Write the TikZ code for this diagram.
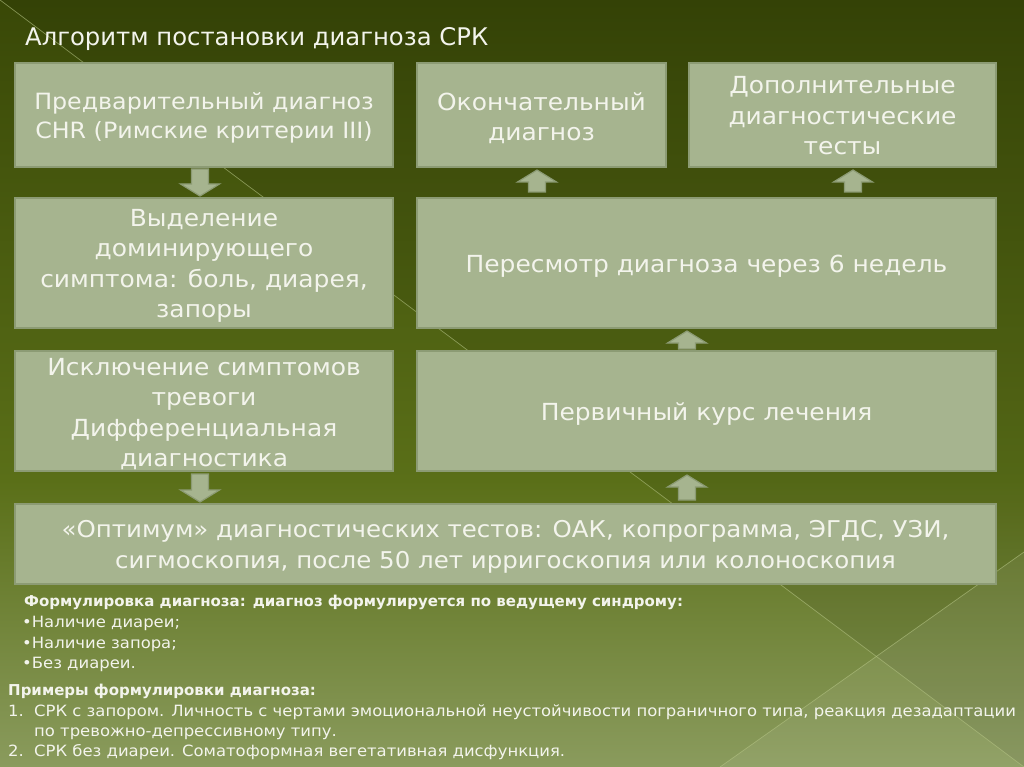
\documentclass[tikz,border=0pt]{standalone}
\usepackage{fontspec}
\setmainfont{DejaVu Sans}
\newfontfamily\widefont[FakeStretch=1.06]{DejaVu Sans}
\usetikzlibrary{calc}
\definecolor{bgtop}{HTML}{394807}
\definecolor{bgmid}{HTML}{5A6F18}
\definecolor{bgbot}{HTML}{8A9B5D}
\definecolor{boxfill}{HTML}{A6B48F}
\definecolor{boxline}{HTML}{8C9B74}
\definecolor{txt}{HTML}{F3F4EC}
\definecolor{deco}{HTML}{B4C384}
\begin{document}
\begin{tikzpicture}[x=1pt,y=-1pt,
  box/.style={draw=boxline, line width=2pt, fill=boxfill, inner sep=0pt, anchor=north west},
  btext/.style={text=txt, align=center, inner sep=0pt, yshift=-3pt,
    font=\widefont\fontsize{23.5}{30.5}\selectfont},
  btextsmall/.style={btext, font=\widefont\fontsize{22.4}{29.5}\selectfont},
  blockarrow/.style={draw=boxline, line width=1.2pt, fill=boxfill,
    to path={let \p1=(\tikztostart), \p2=(\tikztotarget),
      \n1={ifthenelse(\y2>\y1,1,-1)} in
      (\x1-8.5pt,\y1) -- (\x1-8.5pt,\y2-\n1*12pt) -- (\x1-19.5pt,\y2-\n1*12pt)
      -- (\x1,\y2) -- (\x1+19.5pt,\y2-\n1*12pt) -- (\x1+8.5pt,\y2-\n1*12pt)
      -- (\x1+8.5pt,\y1) -- cycle}},
  note/.style={text=txt, anchor=base west, inner sep=0pt, font=\widefont\fontsize{15.5}{18}\selectfont},
  notebold/.style={text=txt, anchor=base west, inner sep=0pt, font=\fontsize{15}{18}\bfseries}
]
\useasboundingbox (0,0) rectangle (1024,767);
% background
\fill[top color=bgtop, bottom color=bgmid] (0,0) rectangle (1024,481);
\fill[top color=bgmid, bottom color=bgbot] (0,480) rectangle (1024,767);
\fill[black, opacity=0.07] (0,0) -- (1024,0) -- (1024,767) -- cycle;
\fill[white, opacity=0.07] (720,767) -- (1024,552) -- (1024,767) -- cycle;
\draw[deco, line width=0.7pt, opacity=0.6] (0,0) -- (1024,767);
\draw[deco, line width=0.7pt, opacity=0.6] (720,767) -- (1024,552);

% title
\node[anchor=base west, text=txt, inner sep=0pt, font=\fontsize{24.3}{28}\selectfont]
  (title) at (25,46) {Алгоритм постановки диагноза СРК};

% boxes
\node[box, minimum width=378pt, minimum height=104pt,
  label={[btextsmall, name=At]center:{Предварительный диагноз\\CHR (Римские критерии III)}}] (A) at (14,62) {};
\node[box, minimum width=249pt, minimum height=104pt,
  label={[btext, name=Bt]center:{Окончательный\\диагноз}}] (B) at (416,62) {};
\node[box, minimum width=307pt, minimum height=104pt,
  label={[btext, name=Ct, yshift=2pt]center:{Дополнительные\\диагностические\\тесты}}] (C) at (688,62) {};
\node[box, minimum width=378pt, minimum height=130pt,
  label={[btext, name=Dt]center:{Выделение\\доминирующего\\симптома: боль, диарея,\\запоры}}] (D) at (14,197) {};
\node[box, minimum width=579pt, minimum height=130pt,
  label={[btext, name=Et]center:{Пересмотр диагноза через 6 недель}}] (E) at (416,197) {};
\node[box, minimum width=378pt, minimum height=120pt,
  label={[btext, name=Ft]center:{Исключение симптомов\\тревоги\\Дифференциальная\\диагностика}}] (F) at (14,350) {};
\node[box, minimum width=579pt, minimum height=120pt,
  label={[btext, name=Gt]center:{Первичный курс лечения}}] (G) at (416,350) {};
\node[box, minimum width=981pt, minimum height=80pt,
  label={[btext, name=Ht, font=\widefont\fontsize{23.1}{31}\selectfont]center:{«Оптимум» диагностических тестов: ОАК, копрограмма, ЭГДС, УЗИ,\\сигмоскопия, после 50 лет ирригоскопия или колоноскопия}}] (H) at (14,503) {};

% block arrows
\draw[blockarrow] ($(A.south)+(-4,1)$) to ($(D.north)+(-4,-1)$);
\draw[blockarrow] ($(E.north -| B.south)+(-4.5,-5)$) to ($(B.south)+(-4.5,2)$);
\draw[blockarrow] ($(E.north -| C.south)+(10.5,-5)$) to ($(C.south)+(10.5,2)$);
\draw[blockarrow] ($(G.north)+(-19.5,-1)$) to ($(E.south)+(-19.5,2)$);
\draw[blockarrow] ($(F.south)+(-4,2)$) to ($(H.north)+(-4,-1)$);
\draw[blockarrow] ($(H.north -| G.south)+(-19.5,-3)$) to ($(G.south)+(-19.5,3)$);

% notes
\node[notebold] (n1) at (24,606) {Формулировка диагноза: диагноз формулируется по ведущему синдрому:};
\node[note] (n2) at (22,627) {•Наличие диареи;};
\node[note] (n3) at (22,648) {•Наличие запора;};
\node[note] (n4) at (22,668) {•Без диареи.};
\node[notebold] (n5) at (8,695) {Примеры формулировки диагноза:};
\node[note] (n6a) at (8,716) {1.};
\node[note] (n6) at (34,716) {СРК с запором. Личность с чертами эмоциональной неустойчивости пограничного типа, реакция дезадаптации};
\node[note] (n7) at (34,736) {по тревожно-депрессивному типу.};
\node[note] (n8a) at (8,756) {2.};
\node[note] (n8) at (34,756) {СРК без диареи. Соматоформная вегетативная дисфункция.};
\end{tikzpicture}
\end{document}
